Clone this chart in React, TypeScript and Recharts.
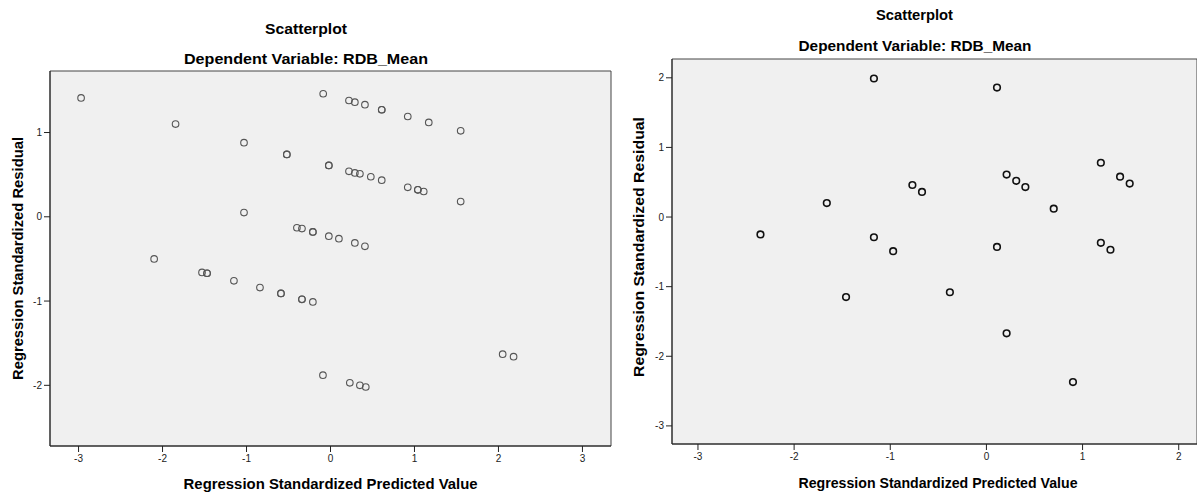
import React from 'react';
import { ScatterChart, Scatter, XAxis, YAxis, ReferenceArea } from 'recharts';

// ---- Left chart data ----
const leftPredicted = [
  -2.97, -1.845, -1.03, -0.52, -0.52, -0.087, 0.22, 0.29, 0.41, 0.61, 0.61, 0.92, 1.17, 1.55,
  -0.02, -0.02, 0.22, 0.29, 0.35, 0.48, 0.61, 0.92, 1.04, 1.04, 1.11, 1.55,
  -1.03, -0.40, -0.34, -0.21, -0.21, -0.02, 0.10, 0.29, 0.41,
  -2.10, -1.53, -1.47, -1.47, -1.15, -0.84, -0.59, -0.59, -0.34, -0.34, -0.21,
  2.05, 2.18, -0.09, 0.23, 0.35, 0.42,
];
const leftResidual = [
  1.41, 1.10, 0.88, 0.74, 0.74, 1.46, 1.38, 1.36, 1.33, 1.27, 1.27, 1.19, 1.12, 1.02,
  0.61, 0.61, 0.54, 0.52, 0.51, 0.475, 0.435, 0.35, 0.32, 0.32, 0.30, 0.18,
  0.05, -0.13, -0.14, -0.18, -0.18, -0.23, -0.26, -0.31, -0.35,
  -0.50, -0.66, -0.67, -0.67, -0.76, -0.84, -0.91, -0.91, -0.98, -0.98, -1.01,
  -1.63, -1.66, -1.88, -1.97, -2.00, -2.02,
];

// ---- Right chart data ----
const rightPredicted = [
  -1.17, 0.11, 1.19, 0.21, 0.31, 0.405, 1.39, 1.49, -0.77, -0.67, -1.66, 0.70,
  -2.35, -1.17, 0.11, 1.19, -0.97, 1.29, -1.46, -0.38, 0.21, 0.90,
];
const rightResidual = [
  1.99, 1.86, 0.78, 0.61, 0.52, 0.43, 0.58, 0.48, 0.46, 0.36, 0.20, 0.12,
  -0.25, -0.29, -0.43, -0.37, -0.49, -0.47, -1.15, -1.08, -1.67, -2.37,
];

// ---- Axes ----
const leftXTicks = [-3, -2, -1, 0, 1, 2, 3];
const leftYTicks = [-2, -1, 0, 1];
const leftXDomain = [-3.34, 3.34];
const leftYDomain = [-2.72, 1.73];

const rightXTicks = [-3, -2, -1, 0, 1, 2];
const rightYTicks = [-3, -2, -1, 0, 1, 2];
const rightXDomain = [-3.27, 2.19];
const rightYDomain = [-3.26, 2.27];

const titleText = 'Scatterplot';
const subtitleText = 'Dependent Variable: RDB_Mean';
const xTitle = 'Regression Standardized Predicted Value';
const yTitle = 'Regression Standardized Residual';

const leftData = leftPredicted.map((x, i) => ({ x, y: leftResidual[i] }));
const rightData = rightPredicted.map((x, i) => ({ x, y: rightResidual[i] }));

const FONT = '"Liberation Sans", Arial, sans-serif';
const tickStyle = { fontSize: 10, fill: '#222', fontFamily: FONT };

const makeShape = (stroke: string, sw: number, r: number) => (props: any) => (
  <circle cx={props.cx} cy={props.cy} r={r} fill="none" stroke={stroke} strokeWidth={sw} />
);

function Plot(props: {
  data: { x: number; y: number }[];
  width: number;
  margin: { top: number; right: number; bottom: number; left: number };
  xDomain: number[];
  yDomain: number[];
  xTicks: number[];
  yTicks: number[];
  stroke: string;
  sw: number;
  r: number;
}) {
  const { data, width, margin, xDomain, yDomain, xTicks, yTicks, stroke, sw, r } = props;
  return (
    <ScatterChart width={width} height={495} margin={margin}>
      <XAxis
        type="number"
        dataKey="x"
        domain={xDomain}
        ticks={xTicks}
        allowDataOverflow
        height={30}
        tickSize={6}
        tickMargin={3}
        axisLine={{ stroke: '#222', strokeWidth: 1 }}
        tickLine={{ stroke: '#222' }}
        tick={tickStyle}
        interval={0}
      />
      <YAxis
        type="number"
        dataKey="y"
        domain={yDomain}
        ticks={yTicks}
        allowDataOverflow
        width={30}
        tickSize={6}
        tickMargin={2}
        axisLine={{ stroke: '#222', strokeWidth: 1 }}
        tickLine={{ stroke: '#222' }}
        tick={tickStyle}
        interval={0}
      />
      <ReferenceArea
        x1={xDomain[0]}
        x2={xDomain[1]}
        y1={yDomain[0]}
        y2={yDomain[1]}
        fill="#f0f0f0"
        fillOpacity={1}
        stroke="#444"
        strokeWidth={1}
        ifOverflow="visible"
      />
      <Scatter data={data} isAnimationActive={false} shape={makeShape(stroke, sw, r)} />
    </ScatterChart>
  );
}

export default function App() {
  const bold = { fontFamily: FONT, fontWeight: 700, fill: '#000' } as const;
  return (
    <div
      style={{
        position: 'absolute',
        left: 0,
        top: 0,
        width: 1197,
        height: 495,
        background: '#fff',
        overflow: 'hidden',
      }}
    >
      <div style={{ position: 'absolute', left: 0, top: 0 }}>
        <Plot
          data={leftData}
          width={620}
          margin={{ top: 71, right: 9, bottom: 19, left: 20 }}
          xDomain={leftXDomain}
          yDomain={leftYDomain}
          xTicks={leftXTicks}
          yTicks={leftYTicks}
          stroke="#555"
          sw={1.1}
          r={3.3}
        />
      </div>
      <div style={{ position: 'absolute', left: 611, top: 0 }}>
        <Plot
          data={rightData}
          width={586}
          margin={{ top: 59, right: 0, bottom: 21, left: 31 }}
          xDomain={rightXDomain}
          yDomain={rightYDomain}
          xTicks={rightXTicks}
          yTicks={rightYTicks}
          stroke="#111"
          sw={1.6}
          r={3.3}
        />
      </div>
      <svg
        width={1197}
        height={495}
        style={{ position: 'absolute', left: 0, top: 0, pointerEvents: 'none' }}
      >
        {/* Left chart texts */}
        <text x={306} y={33.5} textAnchor="middle" fontSize={15} textLength={82} lengthAdjust="spacingAndGlyphs" {...bold}>
          {titleText}
        </text>
        <text x={306} y={64.3} textAnchor="middle" fontSize={15.5} textLength={244} lengthAdjust="spacingAndGlyphs" {...bold}>
          {subtitleText}
        </text>
        <text x={330.6} y={488.5} textAnchor="middle" fontSize={15} textLength={294} lengthAdjust="spacingAndGlyphs" {...bold}>
          {xTitle}
        </text>
        <text
          transform="translate(22.5,258.5) rotate(-90)"
          textAnchor="middle"
          fontSize={15}
          textLength={243}
          lengthAdjust="spacingAndGlyphs"
          {...bold}
        >
          {yTitle}
        </text>
        {/* Right chart texts */}
        <text x={914.5} y={20} textAnchor="middle" fontSize={14.5} textLength={77} lengthAdjust="spacingAndGlyphs" {...bold}>
          {titleText}
        </text>
        <text x={915} y={51} textAnchor="middle" fontSize={15.5} textLength={233} lengthAdjust="spacingAndGlyphs" {...bold}>
          {subtitleText}
        </text>
        <text x={938} y={487.5} textAnchor="middle" fontSize={15} textLength={279} lengthAdjust="spacingAndGlyphs" {...bold}>
          {xTitle}
        </text>
        <text
          transform="translate(643.5,247) rotate(-90)"
          textAnchor="middle"
          fontSize={15.5}
          textLength={260}
          lengthAdjust="spacingAndGlyphs"
          {...bold}
        >
          {yTitle}
        </text>
      </svg>
    </div>
  );
}
